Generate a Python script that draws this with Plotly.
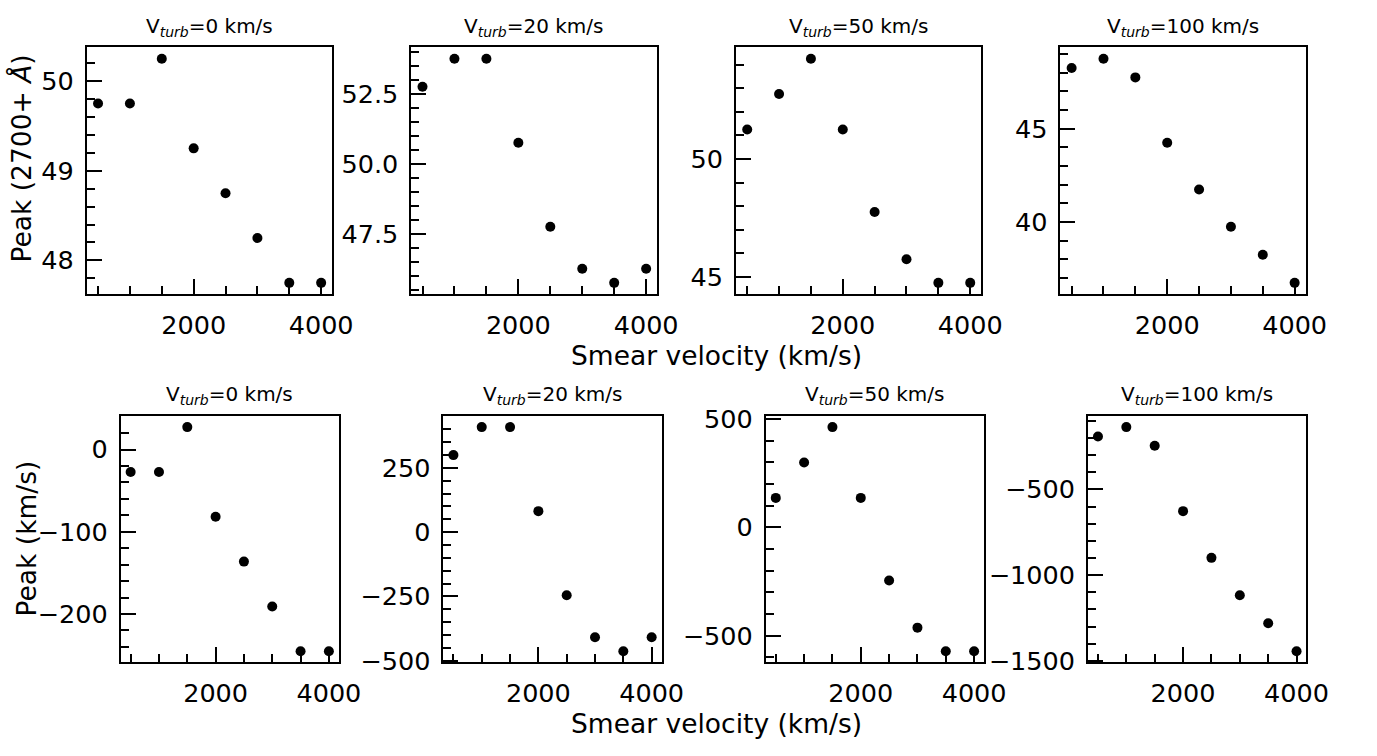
import plotly.graph_objects as go

W, H = 1377, 756

smear = [500, 1000, 1500, 2000, 2500, 3000, 3500, 4000]
titles = ["0", "20", "50", "100"]

peak_ang_0 = [49.75, 49.75, 50.25, 49.25, 48.75, 48.25, 47.75, 47.75]
peak_ang_20 = [52.75, 53.75, 53.75, 50.75, 47.75, 46.25, 45.75, 46.25]
peak_ang_50 = [51.25, 52.75, 54.25, 51.25, 47.75, 45.75, 44.75, 44.75]
peak_ang_100 = [48.25, 48.75, 47.75, 44.25, 41.75, 39.75, 38.25, 36.75]

peak_kms_0 = [-27.3, -27.3, 27.3, -81.8, -136.3, -190.8, -245.3, -245.3]
peak_kms_20 = [299.8, 408.8, 408.8, 81.8, -245.3, -408.8, -463.3, -408.8]
peak_kms_50 = [136.3, 299.8, 463.3, 136.3, -245.3, -463.3, -572.3, -572.3]
peak_kms_100 = [-190.8, -136.3, -245.3, -626.8, -899.3, -1117.3, -1280.8, -1444.3]

top_series = [peak_ang_0, peak_ang_20, peak_ang_50, peak_ang_100]
bot_series = [peak_kms_0, peak_kms_20, peak_kms_50, peak_kms_100]

# panel pixel boxes (left, right, top, bottom)
top_boxes = [(88.3, 337.7, 36.7, 291.7), (418, 668, 36.7, 291.7),
             (748, 997.3, 36.7, 291.7), (1077.7, 1327, 36.7, 291.7)]
bot_boxes = [(122.7, 344.3, 417.7, 672.7), (450.7, 672.3, 417.7, 672.7),
             (778.3, 1000, 417.7, 672.7), (1105.7, 1327.7, 417.7, 672.7)]

top_ydtick = [(1, 0.2, None), (2.5, 0.5, ".1f"), (5, 1, None), (5, 1, None)]
bot_ydtick = [(100, 20, None), (250, 50, None), (500, 100, None), (500, 100, None)]

FONT = "DejaVu Sans"
TICKSIZE = 25.5


def px(x):
    return x / W


def py(y):
    return 1 - y / H


def pad_range(vals):
    lo, hi = min(vals), max(vals)
    m = (hi - lo) * 0.05
    return [lo - m, hi + m]


fig = go.Figure()
annotations = []
idx = 0
for boxes, series, ydt in [(top_boxes, top_series, top_ydtick),
                           (bot_boxes, bot_series, bot_ydtick)]:
    for c in range(4):
        idx += 1
        l, r, t, b = boxes[c]
        xa = "xaxis" if idx == 1 else f"xaxis{idx}"
        ya = "yaxis" if idx == 1 else f"yaxis{idx}"
        xref = "x" if idx == 1 else f"x{idx}"
        yref = "y" if idx == 1 else f"y{idx}"
        fig.add_trace(go.Scatter(x=smear, y=series[c], mode="markers",
                                 marker=dict(color="black", size=10),
                                 xaxis=xref, yaxis=yref, showlegend=False,
                                 cliponaxis=False))
        dt, mdt, fmt = ydt[c]
        common = dict(showline=True, mirror=True, linecolor="black", linewidth=2,
                      ticks="inside", ticklen=15, tickwidth=2, tickcolor="black",
                      showgrid=False, zeroline=False,
                      tickfont=dict(family=FONT, size=TICKSIZE, color="black"))
        minor = dict(ticks="inside", ticklen=8, tickwidth=1.5, tickcolor="black",
                     tick0=0, showgrid=False)
        fig.layout[xa] = dict(domain=[px(l), px(r)], anchor=yref,
                              range=pad_range(smear), tick0=0, dtick=2000,
                              minor=dict(dtick=500, **minor),
                              ticklabelstandoff=7, **common)
        fig.layout[ya] = dict(domain=[py(b), py(t)], anchor=xref,
                              range=pad_range(series[c]), tick0=0, dtick=dt,
                              minor=dict(dtick=mdt, **minor),
                              tickformat=fmt, ticklabelstandoff=6, **common)
        annotations.append(dict(text=f"V<sub><i>turb</i></sub>={titles[c]} km/s",
                                x=px((l + r) / 2), y=py(t - 21.5),
                                xref="paper", yref="paper", showarrow=False,
                                xanchor="center", yanchor="middle",
                                font=dict(family=FONT, size=20, color="black")))

labels = [
    dict(text="Peak (2700+ <i>Å</i>)", x=px(22), y=py(152), textangle=-90),
    dict(text="Peak (km/s)", x=px(27), y=py(545), textangle=-90),
    dict(text="Smear velocity (km/s)", x=px(728), y=py(355)),
    dict(text="Smear velocity (km/s)", x=px(728), y=py(736)),
]
for a in labels:
    a.update(xref="paper", yref="paper", showarrow=False, xanchor="center",
             yanchor="middle", font=dict(family=FONT, size=26.5, color="black"))
annotations += labels

fig.update_layout(width=W, height=H, margin=dict(l=0, r=0, t=0, b=0),
                  paper_bgcolor="white", plot_bgcolor="white",
                  annotations=annotations, showlegend=False,
                  font=dict(family=FONT, color="black"))

fig.write_html("out.html")
